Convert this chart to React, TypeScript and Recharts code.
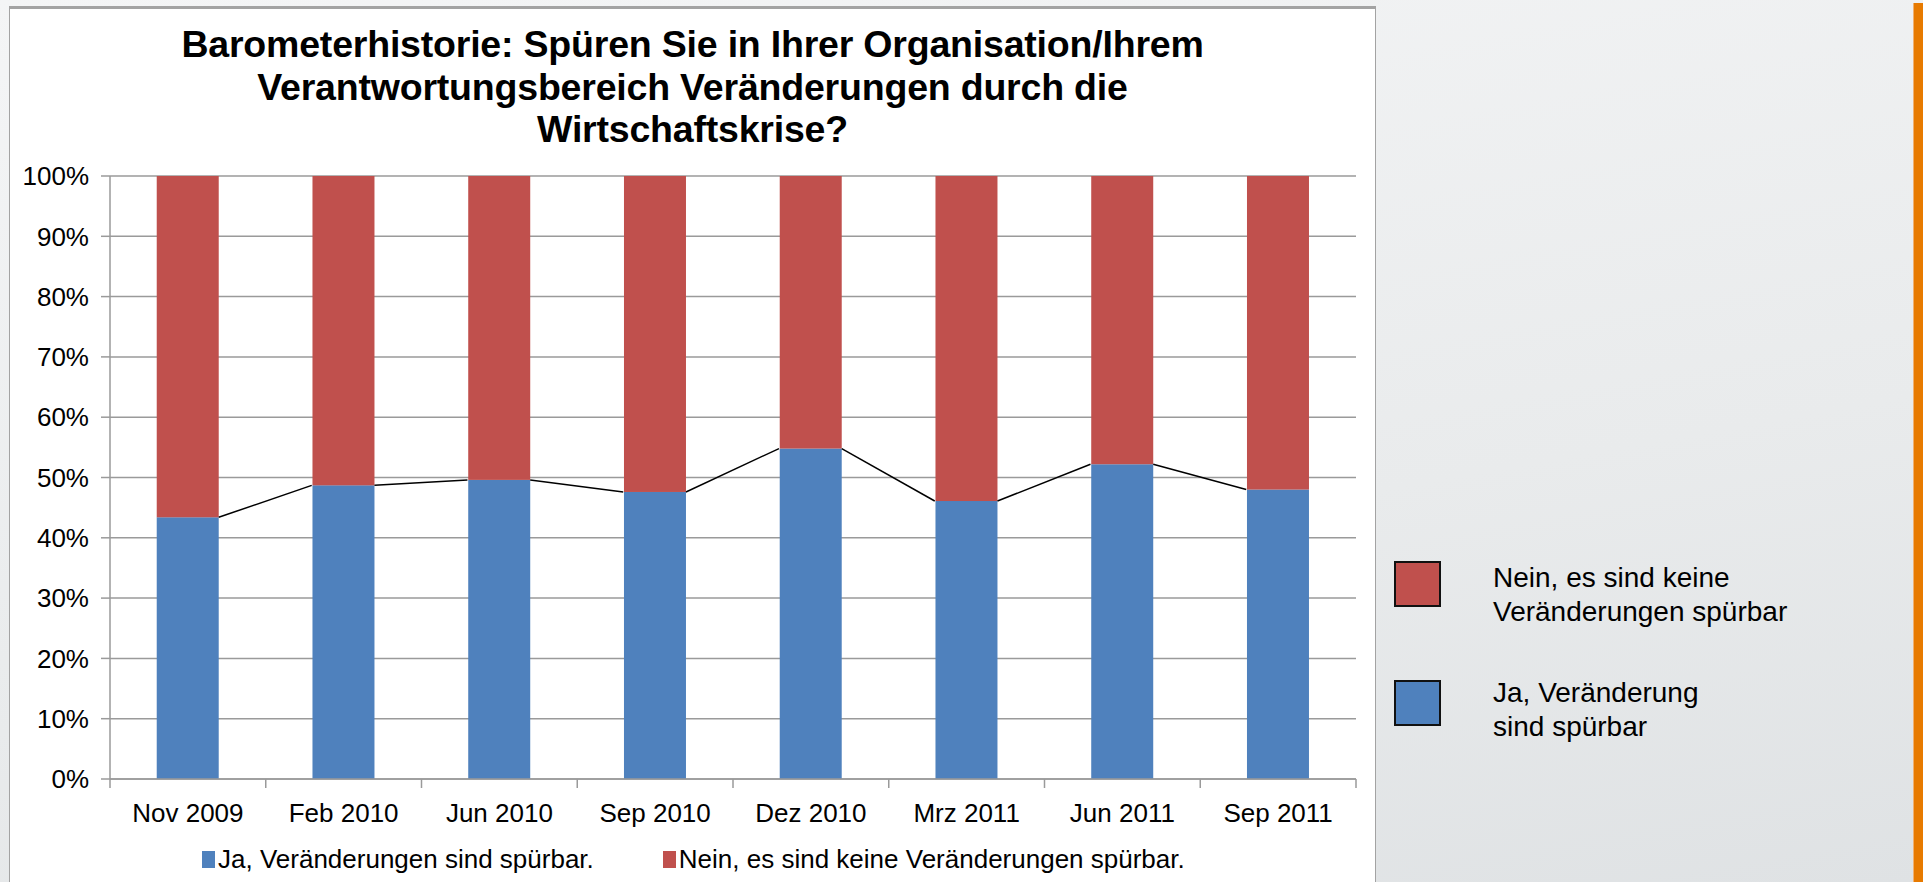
import React from "react";
import { BarChart, Bar, XAxis, YAxis, CartesianGrid } from "recharts";

const CATEGORIES = ["Nov 2009", "Feb 2010", "Jun 2010", "Sep 2010", "Dez 2010", "Mrz 2011", "Jun 2011", "Sep 2011"];
const JA_VALUES = [43.4, 48.7, 49.6, 47.6, 54.8, 46.1, 52.2, 48.0];
const NEIN_VALUES = [56.6, 51.3, 50.4, 52.4, 45.2, 53.9, 47.8, 52.0];
const Y_TICKS = [0, 10, 20, 30, 40, 50, 60, 70, 80, 90, 100];
const SERIES_JA = "Ja, Veränderungen sind spürbar.";
const SERIES_NEIN = "Nein, es sind keine Veränderungen spürbar.";
const SIDE_LEGEND_NEIN = ["Nein, es sind keine", "Veränderungen spürbar"];
const SIDE_LEGEND_JA = ["Ja, Veränderung", "sind spürbar"];
const TITLE_LINES = [
  "Barometerhistorie: Spüren Sie in Ihrer Organisation/Ihrem",
  "Verantwortungsbereich Veränderungen durch die",
  "Wirtschaftskrise?",
];

const data = CATEGORIES.map((c, i) => ({ cat: c, ja: JA_VALUES[i], nein: NEIN_VALUES[i] }));

const W = 1923;
const H = 882;
const FONT = "'Liberation Sans', Arial, sans-serif";
const BLUE = "#4F81BD";
const RED = "#C0504D";
const GRID = "#9a9a9a";
const MARGIN = { top: 176, right: 567, bottom: 43, left: 0 };
const Y_AXIS_W = 110;
const X_AXIS_H = 60;
const PLOT_LEFT = MARGIN.left + Y_AXIS_W;
const PLOT_RIGHT = W - MARGIN.right;
const PLOT_BOTTOM = H - MARGIN.bottom - X_AXIS_H;
const CAT_GAP = 0.3;

function XTick(props: any) {
  const { x, payload, index } = props;
  const half = (PLOT_RIGHT - PLOT_LEFT) / CATEGORIES.length / 2;
  return (
    <g>
      {index === 0 && (
        <line x1={x - half} x2={x - half} y1={PLOT_BOTTOM} y2={PLOT_BOTTOM + 9} stroke={GRID} strokeWidth={1.5} />
      )}
      <line x1={x + half} x2={x + half} y1={PLOT_BOTTOM} y2={PLOT_BOTTOM + 9} stroke={GRID} strokeWidth={1.5} />
      <text x={x} y={PLOT_BOTTOM + 34} textAnchor="middle" dominantBaseline="central" fontSize={26} fontFamily={FONT} fill="#000">
        {payload.value}
      </text>
    </g>
  );
}

function NeinShape(props: any) {
  const { x, y, width, height, index, payload, fill } = props;
  let connector = null;
  if (index < data.length - 1 && payload && payload.nein > 0) {
    const k = height / payload.nein;
    const bottom = y + height;
    const nextY = bottom - (data[index + 1].ja - payload.ja) * k;
    const band = width / (1 - 2 * CAT_GAP);
    const nextX = x + band;
    connector = <line x1={x + width} y1={bottom} x2={nextX} y2={nextY} stroke="#000" strokeWidth={1.5} />;
  }
  return (
    <g>
      <rect x={x} y={y} width={width} height={height} fill={fill} />
      {connector}
    </g>
  );
}

export default function App() {
  return (
    <div
      style={{
        position: "absolute",
        left: 0,
        top: 0,
        width: W,
        height: H,
        overflow: "hidden",
        background: "linear-gradient(170deg, #f4f5f6 0%, #e9ebec 60%, #dfe2e4 100%)",
        fontFamily: FONT,
      }}
    >
      {/* orange stripe */}
      <div style={{ position: "absolute", left: 1913, top: 3, width: 10, height: H - 3, background: "#E77A00", borderLeft: "1px solid #f0b070" }} />
      {/* chart box */}
      <div
        style={{
          position: "absolute",
          left: 9,
          top: 6,
          width: 1367,
          height: H,
          background: "#fff",
          borderTop: "3px solid #a3a3a3",
          borderLeft: "1.5px solid #a3a3a3",
          borderRight: "1.5px solid #a3a3a3",
          boxSizing: "border-box",
        }}
      />
      {/* title */}
      <div
        style={{
          position: "absolute",
          left: 9,
          top: 23,
          width: 1367,
          textAlign: "center",
          fontWeight: "bold",
          fontSize: 37.5,
          lineHeight: "42.5px",
          color: "#000",
          letterSpacing: "-0.2px",
        }}
      >
        {TITLE_LINES.map((t) => (
          <div key={t}>{t}</div>
        ))}
      </div>
      <div style={{ position: "absolute", left: 0, top: 0 }}>
        <BarChart width={W} height={H} data={data} margin={MARGIN} barCategoryGap={`${CAT_GAP * 100}%`}>
          <CartesianGrid vertical={false} stroke={GRID} strokeWidth={1.5} />
          <XAxis
            dataKey="cat"
            height={X_AXIS_H}
            axisLine={{ stroke: GRID, strokeWidth: 1.5 }}
            tickLine={false}
            tick={<XTick />}
            interval={0}
          />
          <YAxis
            width={Y_AXIS_W}
            domain={[0, 100]}
            ticks={Y_TICKS}
            tickFormatter={(v: number) => `${v}%`}
            tick={{ fontSize: 26, fill: "#000", fontFamily: FONT }}
            tickLine={{ stroke: GRID, strokeWidth: 1.5 }}
            axisLine={{ stroke: GRID, strokeWidth: 1.5 }}
            tickSize={9}
            tickMargin={12}
            allowDataOverflow
          />
          <Bar dataKey="ja" name={SERIES_JA} stackId="s" fill={BLUE} isAnimationActive={false} />
          <Bar dataKey="nein" name={SERIES_NEIN} stackId="s" fill={RED} isAnimationActive={false} shape={<NeinShape />} />
        </BarChart>
      </div>
      {/* bottom legend */}
      <div style={{ position: "absolute", left: 202, top: 844, display: "flex", alignItems: "center", fontSize: 26, color: "#000", whiteSpace: "nowrap" }}>
        <span style={{ display: "inline-block", width: 13, height: 17, background: BLUE, marginRight: 3 }} />
        <span>{SERIES_JA}</span>
        <span style={{ display: "inline-block", width: 13, height: 17, background: RED, marginLeft: 69, marginRight: 3 }} />
        <span>{SERIES_NEIN}</span>
      </div>
      {/* side legend */}
      <div style={{ position: "absolute", left: 1394, top: 561, width: 47, height: 46, background: RED, border: "2px solid #111", boxSizing: "border-box" }} />
      <div style={{ position: "absolute", left: 1493, top: 561, fontSize: 28, lineHeight: "34px", color: "#000", whiteSpace: "nowrap" }}>
        {SIDE_LEGEND_NEIN.map((t) => (
          <div key={t}>{t}</div>
        ))}
      </div>
      <div style={{ position: "absolute", left: 1394, top: 680, width: 47, height: 46, background: BLUE, border: "2px solid #111", boxSizing: "border-box" }} />
      <div style={{ position: "absolute", left: 1493, top: 676, fontSize: 28, lineHeight: "34px", color: "#000", whiteSpace: "nowrap" }}>
        {SIDE_LEGEND_JA.map((t) => (
          <div key={t}>{t}</div>
        ))}
      </div>
    </div>
  );
}
